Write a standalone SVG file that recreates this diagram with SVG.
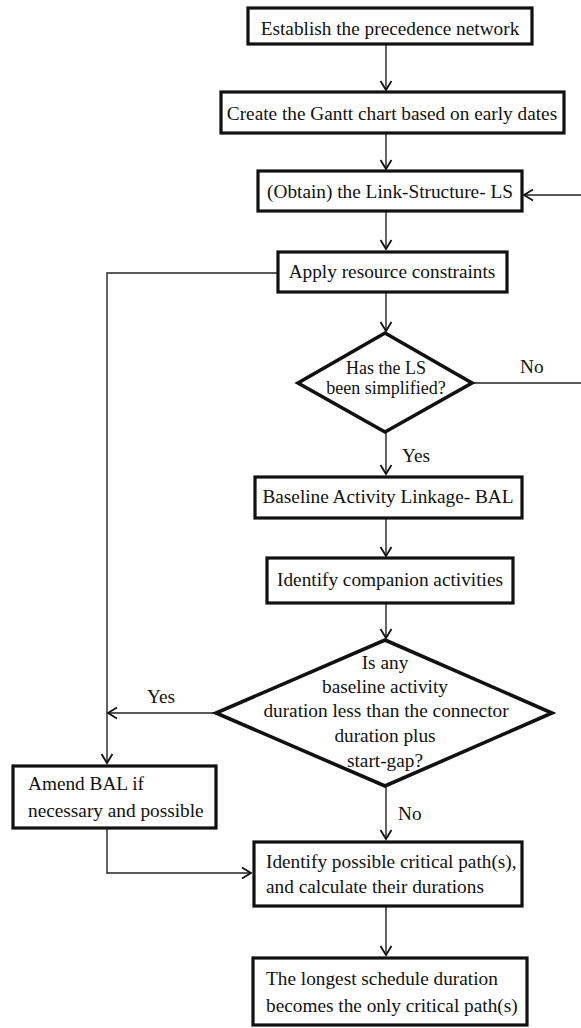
<svg xmlns="http://www.w3.org/2000/svg" width="581" height="1028" viewBox="0 0 581 1028">
<style>
.box{fill:#fff;stroke:#111;stroke-width:3.2}
.dia{fill:#fff;stroke:#111;stroke-width:3.6;stroke-linejoin:miter}
.con{fill:none;stroke:#222;stroke-width:1.4}
.arr{marker-end:url(#ah)}
text{font-family:"Liberation Serif","Times New Roman",serif;font-size:19.3px;fill:#111}
.c{text-anchor:middle}
.s{font-size:18px}
</style>
<defs>
<marker id="ah" viewBox="-11 -7 13 14" refX="0" refY="0" markerWidth="13" markerHeight="14" markerUnits="userSpaceOnUse" orient="auto">
<path d="M-9,-5.5 L0,0 L-9,5.5" fill="none" stroke="#111" stroke-width="1.8"/>
</marker>
</defs>
<rect width="581" height="1028" fill="#fff"/>
<g id="connectors">
<line class="con arr" x1="386" y1="45" x2="386" y2="90"/>
<line class="con arr" x1="386" y1="134" x2="386" y2="169"/>
<line class="con arr" x1="386" y1="212" x2="386" y2="249"/>
<line class="con arr" x1="386" y1="293" x2="386" y2="331"/>
<line class="con arr" x1="386" y1="433" x2="386" y2="474"/>
<line class="con arr" x1="386" y1="519" x2="386" y2="556"/>
<line class="con arr" x1="386" y1="604" x2="386" y2="638"/>
<line class="con arr" x1="386" y1="787" x2="386" y2="839"/>
<line class="con arr" x1="386" y1="907" x2="386" y2="955"/>
<line class="con arr" x1="582" y1="195" x2="524" y2="195"/>
<line class="con" x1="472" y1="383" x2="582" y2="383"/>
<polyline class="con arr" points="277,273 107,273 107,763"/>
<line class="con arr" x1="216" y1="713" x2="108" y2="713"/>
<polyline class="con arr" points="107,829 107,873 251,873"/>
<text x="520" y="373">No</text>
<text x="402" y="462">Yes</text>
<text x="147" y="703">Yes</text>
<text x="398" y="820">No</text>
</g>
<g id="n1">
<rect class="box" x="248" y="8" width="284" height="36"/>
<text class="c" x="390" y="35">Establish the precedence network</text>
</g>
<g id="n2">
<rect class="box" x="221" y="92" width="343" height="41"/>
<text class="c" x="392" y="120">Create the Gantt chart based on early dates</text>
</g>
<g id="n3">
<rect class="box" x="258" y="171" width="264" height="40"/>
<text class="c" x="390" y="198">(Obtain) the Link-Structure- LS</text>
</g>
<g id="n4">
<rect class="box" x="278" y="252" width="229" height="40"/>
<text class="c" x="392" y="278">Apply resource constraints</text>
</g>
<g id="d1">
<polygon class="dia" points="385,333 472,383 385,432 298,383"/>
<text class="c s" x="386" y="374">Has the LS</text>
<text class="c s" x="386" y="394">been simplified?</text>
</g>
<g id="n5">
<rect class="box" x="255" y="477" width="267" height="41"/>
<text class="c" x="388" y="503">Baseline Activity Linkage- BAL</text>
</g>
<g id="n6">
<rect class="box" x="267" y="558" width="246" height="45"/>
<text class="c" x="390" y="586">Identify companion activities</text>
</g>
<g id="d2">
<polygon class="dia" points="385,640 552,713 385,786 216,713"/>
<text class="c" x="385" y="669">Is any</text>
<text class="c" x="385" y="693">baseline activity</text>
<text class="c" x="386" y="717">duration less than the connector</text>
<text class="c" x="385" y="742">duration plus</text>
<text class="c" x="385" y="767">start-gap?</text>
</g>
<g id="n7">
<rect class="box" x="13" y="766" width="203" height="62"/>
<text x="28" y="790">Amend BAL if</text>
<text x="28" y="817">necessary and possible</text>
</g>
<g id="n8">
<rect class="box" x="254" y="842" width="268" height="64"/>
<text x="266" y="868">Identify possible critical path(s),</text>
<text x="266" y="893">and calculate their durations</text>
</g>
<g id="n9">
<rect class="box" x="253" y="958" width="274" height="67"/>
<text x="266" y="985">The longest schedule duration</text>
<text x="266" y="1012">becomes the only critical path(s)</text>
</g>
</svg>
